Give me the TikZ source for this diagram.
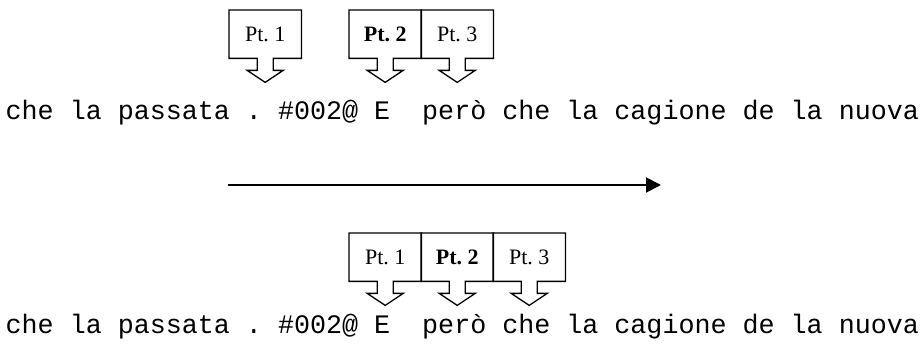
\documentclass[tikz,border=0pt]{standalone}
\usepackage{fontspec}
\setmainfont{Liberation Serif}
\newfontfamily\linefont[WordSpace={1,0,0}]{Liberation Mono}
\usetikzlibrary{calc,arrows.meta}

\tikzset{
  ptlabel/.style={inner sep=0pt, minimum width=72pt, minimum height=48pt,
    anchor=north west, font=\fontsize{22}{24}\selectfont},
  ptline/.style={draw=black, line width=1.3pt, line join=miter},
  textline/.style={inner sep=0pt, anchor=base west,
    font=\linefont\fontsize{26.7}{30}\selectfont},
  flow/.style={line width=2pt, -{Triangle[length=15pt,width=15pt]}}
}

% A labelled box whose bottom edge opens into a downward block arrow
\newcommand\ptcallout[4]{%
  \node[ptlabel] (#1) at (#2,#3) {#4};
  \draw[ptline] (#1.south west) -- (#1.north west) -- (#1.north east)
    -- (#1.south east) -- ($(#1.south)+(8,0)$) -- ($(#1.south)+(8,12)$)
    -- ($(#1.south)+(18,12)$) -- ($(#1.south)+(0,24)$)
    -- ($(#1.south)+(-18,12)$) -- ($(#1.south)+(-8,12)$)
    -- ($(#1.south)+(-8,0)$) -- cycle;
}

\begin{document}
\begin{tikzpicture}[x=1pt,y=-1pt]
\useasboundingbox (0,0) rectangle (922,344);
\frenchspacing

% upper row
\ptcallout{a1}{229}{10}{Pt. 1}
\ptcallout{a2}{349}{10}{\textbf{Pt. 2}}
\ptcallout{a3}{421}{10}{Pt. 3}
\node[textline] (lineA) at (5.5,120) {che la passata . \#002@ E\ \ però che la cagione de la nuova};

% transition arrow
\coordinate (flowstart) at (228,185);
\coordinate (flowend) at (661,185);
\draw[flow] (flowstart) -- (flowend);

% lower row
\ptcallout{b1}{349}{233}{Pt. 1}
\ptcallout{b2}{421}{233}{\textbf{Pt. 2}}
\ptcallout{b3}{493}{233}{Pt. 3}
\node[textline] (lineB) at (5.5,334) {che la passata . \#002@ E\ \ però che la cagione de la nuova};
\end{tikzpicture}
\end{document}
